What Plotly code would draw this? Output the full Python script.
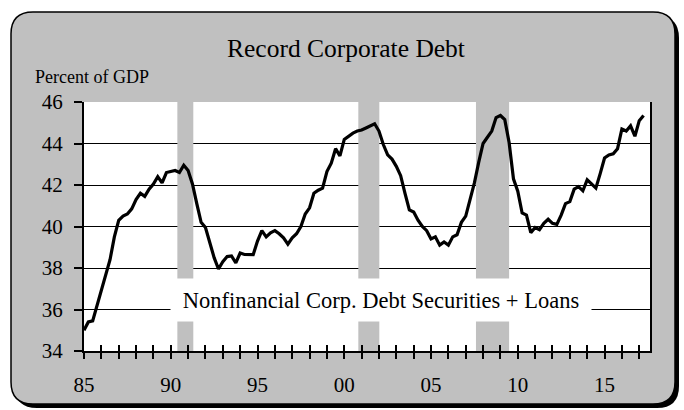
import plotly.graph_objects as go

# ---------------- data ----------------
START_YEAR = 1985.0
DEBT_PCT_GDP = [
    35.0, 35.4, 35.45, 36.2,     # 1985
    36.9, 37.6, 38.4, 39.5,      # 1986
    40.3, 40.5, 40.6, 40.85,     # 1987
    41.3, 41.6, 41.45, 41.8,     # 1988
    42.05, 42.4, 42.1, 42.6,     # 1989
    42.65, 42.7, 42.6, 42.95,    # 1990
    42.7, 42.05, 41.1, 40.2,     # 1991
    39.95, 39.2, 38.5, 37.95,    # 1992
    38.3, 38.55, 38.58, 38.25,   # 1993
    38.72, 38.65, 38.64, 38.64,  # 1994
    39.3, 39.8, 39.5, 39.7,      # 1995
    39.8, 39.65, 39.45, 39.15,   # 1996
    39.45, 39.65, 40.0, 40.6,    # 1997
    40.9, 41.6, 41.75, 41.85,    # 1998
    42.65, 43.05, 43.75, 43.4,   # 1999
    44.2, 44.35, 44.5, 44.6,     # 2000
    44.65, 44.75, 44.85, 44.95,  # 2001
    44.6, 43.95, 43.45, 43.25,   # 2002
    42.9, 42.45, 41.6, 40.8,     # 2003
    40.7, 40.3, 40.0, 39.8,      # 2004
    39.4, 39.5, 39.1, 39.25,     # 2005
    39.1, 39.5, 39.6, 40.2,      # 2006
    40.5, 41.3, 42.1, 43.1,      # 2007
    44.0, 44.3, 44.6, 45.25,     # 2008
    45.35, 45.15, 44.05, 42.3,   # 2009
    41.7, 40.65, 40.55, 39.7,    # 2010
    39.95, 39.85, 40.15, 40.35,  # 2011
    40.15, 40.1, 40.55, 41.1,    # 2012
    41.2, 41.8, 41.92, 41.72,    # 2013
    42.25, 42.05, 41.85, 42.55,  # 2014
    43.3, 43.45, 43.5, 43.75,    # 2015
    44.7, 44.6, 44.85, 44.35,    # 2016
    45.1, 45.35,                 # 2017
]
QUARTERS = [START_YEAR + i * 0.25 for i in range(len(DEBT_PCT_GDP))]

RECESSION_START = [1990.38, 2000.81, 2007.59]
RECESSION_END = [1991.30, 2002.02, 2009.50]

Y_TICKS = [34, 36, 38, 40, 42, 44, 46]
X_LABEL_YEARS = [1985, 1990, 1995, 2000, 2005, 2010, 2015]
X_LABELS = ["85", "90", "95", "00", "05", "10", "15"]
MINOR_YEARS = list(range(1985, 2018))

TITLE = "Record Corporate Debt"
Y_UNIT = "Percent of GDP"
SERIES_NAME = "Nonfinancial Corp. Debt Securities + Loans"

# ---------------- layout geometry ----------------
W, H = 684, 410
ML, MR, MT, MB = 84, 34, 102, 59
PW, PH = W - ML - MR, H - MT - MB
X_RANGE = [1985, 2017.62]
Y_RANGE = [34, 46]

GREY = "#c0c0c0"
FONT = "Liberation Serif"


def px(x):
    return (x - ML) / PW


def py(y):
    return (H - MB - y) / PH


def rounded_rect(x0, y0, x1, y1, r):
    rx, ry = r / PW, r / PH
    X0, X1 = px(x0), px(x1)
    Y0, Y1 = py(y0), py(y1)  # Y0 top (larger), Y1 bottom
    return (
        f"M {X0 + rx} {Y0} L {X1 - rx} {Y0} Q {X1} {Y0} {X1} {Y0 - ry} "
        f"L {X1} {Y1 + ry} Q {X1} {Y1} {X1 - rx} {Y1} "
        f"L {X0 + rx} {Y1} Q {X0} {Y1} {X0} {Y1 + ry} "
        f"L {X0} {Y0 - ry} Q {X0} {Y0} {X0 + rx} {Y0} Z"
    )


tick_text = []
for yr in MINOR_YEARS:
    tick_text.append(X_LABELS[X_LABEL_YEARS.index(yr)] if yr in X_LABEL_YEARS else "")

fig = go.Figure()

# recession bars
fig.add_trace(go.Bar(
    x=[(s + e) / 2 for s, e in zip(RECESSION_START, RECESSION_END)],
    width=[e - s for s, e in zip(RECESSION_START, RECESSION_END)],
    y=[Y_RANGE[1] - Y_RANGE[0]] * len(RECESSION_START),
    base=Y_RANGE[0],
    marker=dict(color=GREY, line=dict(width=0)),
    hoverinfo="skip",
    showlegend=False,
))

# debt line
fig.add_trace(go.Scatter(
    x=QUARTERS, y=DEBT_PCT_GDP, mode="lines",
    line=dict(color="black", width=3.2),
    showlegend=False,
))

# invisible trace for the inner-tick overlay axis
fig.add_trace(go.Scatter(
    x=[QUARTERS[0]], y=[DEBT_PCT_GDP[0]], mode="none",
    xaxis="x2", showlegend=False, hoverinfo="skip",
))

shapes = [
    dict(type="path", xref="paper", yref="paper", layer="below",
         path=rounded_rect(15, 16, 679, 408, 22),
         fillcolor="black", line=dict(width=0)),
    dict(type="path", xref="paper", yref="paper", layer="below",
         path=rounded_rect(11, 12, 675, 404, 22),
         fillcolor=GREY, line=dict(color="black", width=1.5)),
    dict(type="rect", xref="paper", yref="paper", layer="below",
         x0=0, x1=1, y0=0, y1=1, fillcolor="white", line=dict(width=0)),
]

fig.update_layout(
    width=W, height=H,
    margin=dict(l=ML, r=MR, t=MT, b=MB, pad=0),
    paper_bgcolor="white",
    plot_bgcolor="white",
    shapes=shapes,
    barmode="overlay",
    font=dict(family=FONT, color="black", size=21),
    title=dict(text=TITLE, x=346 / W, y=1 - 48 / H, xanchor="center", yanchor="middle",
               font=dict(family=FONT, size=25.5, color="black")),
    xaxis=dict(
        range=X_RANGE, showgrid=False, zeroline=False,
        showline=True, linecolor="black", linewidth=2,
        tickmode="array", tickvals=MINOR_YEARS, ticktext=tick_text,
        ticks="outside", ticklen=6, tickwidth=1.5, tickcolor="black",
        tickfont=dict(family=FONT, size=21, color="black"),
        ticklabelstandoff=8,
    ),
    xaxis2=dict(
        range=X_RANGE, overlaying="x", side="bottom", anchor="y",
        showgrid=False, zeroline=False, showline=False,
        tickmode="array", tickvals=MINOR_YEARS, showticklabels=False,
        ticks="inside", ticklen=6, tickwidth=1.5, tickcolor="black",
    ),
    yaxis=dict(
        range=Y_RANGE, tickmode="array", tickvals=Y_TICKS,
        showgrid=True, gridcolor="black", gridwidth=1.3, zeroline=False,
        showline=True, linecolor="black", linewidth=2, mirror=True,
        ticks="outside", ticklen=8, tickwidth=1.5, tickcolor="black",
        tickfont=dict(family=FONT, size=21, color="black"),
        ticklabelstandoff=7,
    ),
    annotations=[
        dict(text=Y_UNIT, xref="paper", yref="paper", x=px(33), y=py(77),
             xanchor="left", yanchor="middle", showarrow=False,
             font=dict(family=FONT, size=18, color="black")),
        dict(text=SERIES_NAME, xref="paper", yref="paper", x=px(381), y=py(300),
             xanchor="center", yanchor="middle", showarrow=False,
             width=418, height=40, bgcolor="white",
             font=dict(family=FONT, size=22.5, color="black")),
    ],
)

fig.write_html("out.html", config={"displayModeBar": False},
               post_script="document.body.style.margin='0';")
